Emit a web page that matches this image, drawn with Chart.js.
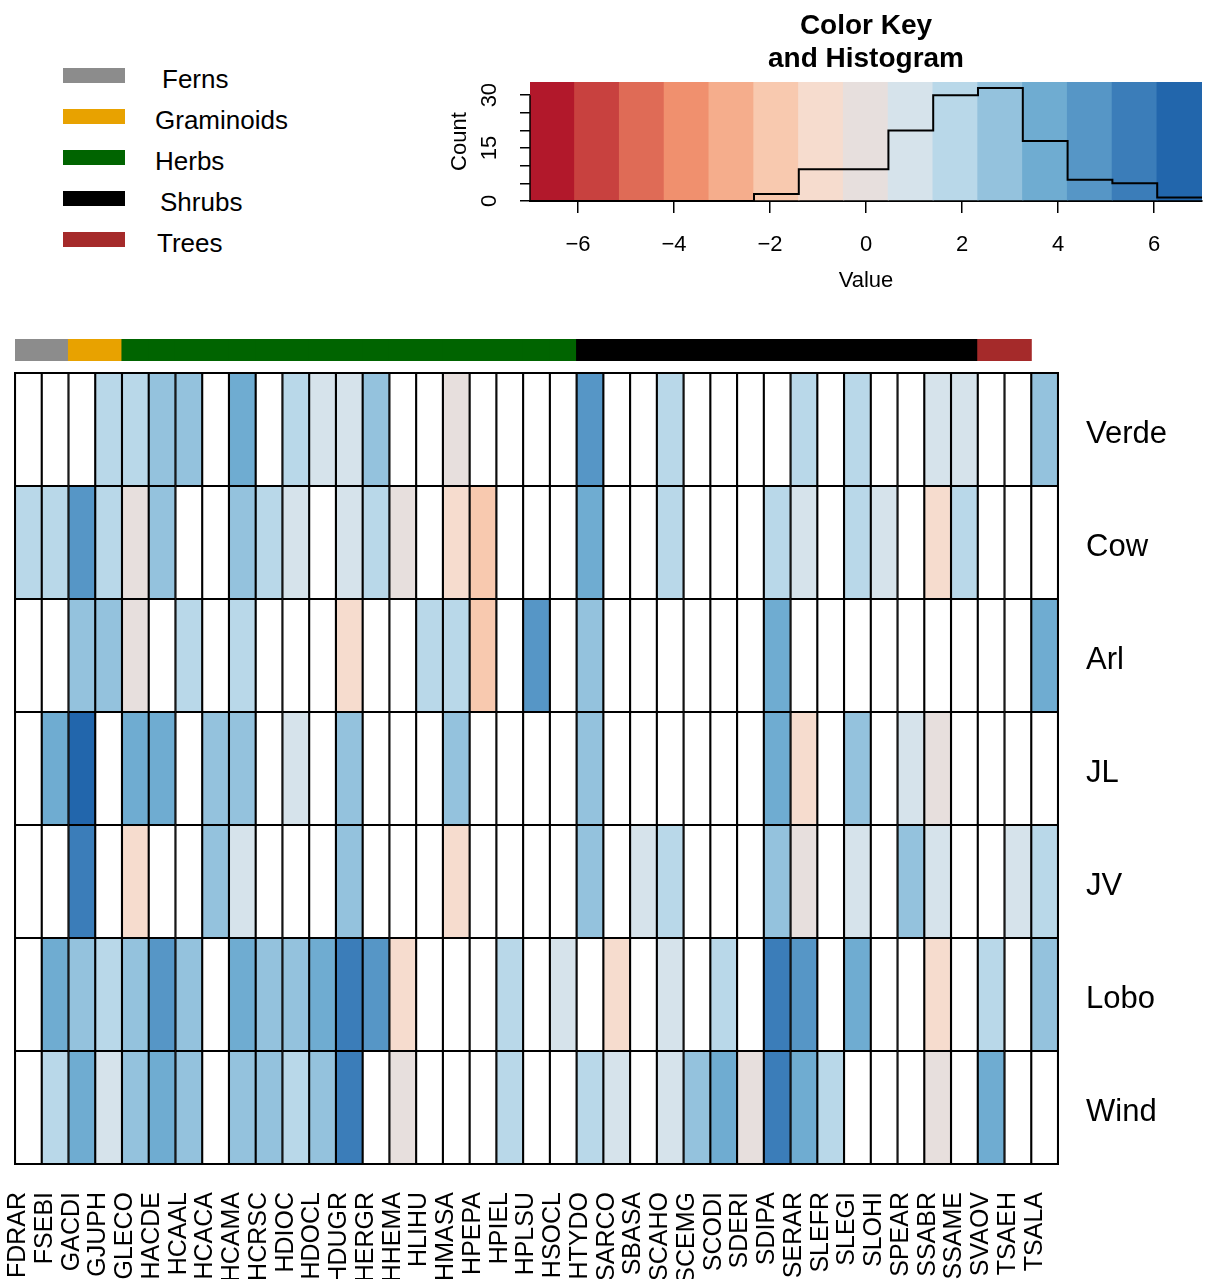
<!DOCTYPE html>
<html>
<head>
<meta charset="utf-8">
<title>Heatmap</title>
<script src="https://cdn.jsdelivr.net/npm/chart.js@4.4.0/dist/chart.umd.min.js"></script>
<style>
  body { margin: 0; background: #fff; width: 1205px; height: 1279px; overflow: hidden; position: relative;
         font-family: "Liberation Sans", Arial, Helvetica, sans-serif; }
  canvas { position: absolute; }
  #key { left: 420px; top: 0px; }
  #strip { left: 0px; top: 335px; }
  #heat { left: 0px; top: 365px; }
  .sw { position: absolute; left: 63px; width: 62px; height: 15px; }
  .lab { position: absolute; font-size: 26px; height: 30px; line-height: 30px; color: #000; }
</style>
</head>
<body>
<div id="legend"></div>
<canvas id="key" width="785" height="300"></canvas>
<canvas id="strip" width="1205" height="30"></canvas>
<canvas id="heat" width="1205" height="914"></canvas>
<script>
// species (columns) and sites (rows, top to bottom)
var species = ['FDRAR','FSEBI','GACDI','GJUPH','GLECO','HACDE','HCAAL','HCACA','HCAMA','HCRSC',
  'HDIOC','HDOCL','HDUGR','HERGR','HHEMA','HLIHU','HMASA','HPEPA','HPIEL','HPLSU','HSOCL','HTYDO',
  'SARCO','SBASA','SCAHO','SCEMG','SCODI','SDERI','SDIPA','SERAR','SLEFR','SLEGI','SLOHI','SPEAR',
  'SSABR','SSAME','SVAOV','TSAEH','TSALA'];
var rowNames = ['Verde','Cow','Arl','JL','JV','Lobo','Wind'];

// cell values (null = blank cell)
var n = null;
var verde = [n,n,n,1.9,1.9,2.8,2.8,n,3.7,n,1.9,0.9,0.9,2.8,n,n,0.1,n,n,n,n,4.7,n,n,1.9,n,n,n,n,1.9,n,1.9,n,n,0.9,0.9,n,n,2.8];
var cow   = [1.9,1.9,4.7,1.9,0.1,2.8,n,n,2.8,1.9,0.9,n,0.9,1.9,0.1,n,-0.9,-1.8,n,n,n,3.7,n,n,1.9,n,n,n,1.9,0.9,n,1.9,0.9,n,-0.9,1.9,n,n,n];
var arl   = [n,n,2.8,2.8,0.1,n,1.9,n,1.9,n,n,n,-0.9,n,n,1.9,1.9,-1.8,n,4.7,n,2.8,n,n,n,n,n,n,3.7,n,n,n,n,n,n,n,n,n,3.7];
var jl    = [n,3.7,6.4,n,3.7,3.7,n,2.8,2.8,n,0.9,n,2.8,n,n,n,2.8,n,n,n,n,2.8,n,n,n,n,n,n,3.7,-0.9,n,2.8,n,0.9,0.1,n,n,n,n];
var jv    = [n,n,5.6,n,-0.9,n,n,2.8,0.9,n,n,n,2.8,n,n,n,-0.9,n,n,n,n,2.8,n,0.9,1.9,n,n,n,2.8,0.1,n,0.9,n,2.8,0.9,n,n,0.9,1.9];
var lobo  = [n,3.7,2.8,1.9,2.8,4.7,2.8,n,3.7,2.8,2.8,3.7,5.6,4.7,-0.9,n,n,n,1.9,n,0.9,n,-0.9,n,0.9,n,1.9,n,5.6,4.7,n,3.7,n,n,-0.9,n,1.9,n,2.8];
var wind  = [n,1.9,3.7,0.9,2.8,3.7,2.8,n,2.8,2.8,1.9,2.8,5.6,n,0.1,n,n,n,1.9,n,n,1.9,0.9,n,0.9,2.8,3.7,0.1,5.6,3.7,1.9,n,n,n,0.1,n,3.7,n,n];
var rows = [verde, cow, arl, jl, jv, lobo, wind];

// colour key
var breaks = [-7,-6.067,-5.133,-4.2,-3.267,-2.333,-1.4,-0.467,0.467,1.4,2.333,3.267,4.2,5.133,6.067,7];
var keyColors = ['#b2182b','#c8413f','#df6b56','#f0906e','#f5ad8c','#f8c9af','#f6dcce','#e7dfdd',
  '#d6e3eb','#b9d8e9','#94c2dd','#6facd1','#5696c6','#3b7db9','#2266ac'];
var histCounts = [0,0,0,0,0,2,9,9,20,30,32,17,6,5,1];
var xTickVals = [-6,-4,-2,0,2,4,6];
var xTickLabels = ['\u22126','\u22124','\u22122','0','2','4','6'];
var yTickVals = [0,15,30];
var yTickLabels = ['0','15','30'];

// column side colours (as drawn, 38 entries)
var groupNames = ['Ferns','Graminoids','Herbs','Shrubs','Trees'];
var groupColors = ['#8c8c8c','#e8a200','#006400','#000000','#a52a2a'];
var stripGroups = ['Ferns','Ferns','Graminoids','Graminoids',
  'Herbs','Herbs','Herbs','Herbs','Herbs','Herbs','Herbs','Herbs','Herbs','Herbs','Herbs','Herbs','Herbs','Herbs','Herbs','Herbs','Herbs',
  'Shrubs','Shrubs','Shrubs','Shrubs','Shrubs','Shrubs','Shrubs','Shrubs','Shrubs','Shrubs','Shrubs','Shrubs','Shrubs','Shrubs','Shrubs',
  'Trees','Trees'];

Chart.defaults.font.family = '"Liberation Sans", Arial, Helvetica, sans-serif';
Chart.defaults.color = '#000';

function cellColor(v) {
  if (v === null) return '#ffffff';
  for (var k = 0; k < keyColors.length; k++) {
    if (v >= breaks[k] && v < breaks[k + 1]) return keyColors[k];
  }
  return keyColors[keyColors.length - 1];
}

// legend
var legendTops = [68, 109, 150, 191, 232];
var legendTextLeft = [162, 155, 155, 160, 157];
var leg = document.getElementById('legend');
groupNames.forEach(function (g, i) {
  var s = document.createElement('div');
  s.className = 'sw';
  s.style.top = legendTops[i] + 'px';
  s.style.background = groupColors[i];
  leg.appendChild(s);
  var t = document.createElement('div');
  t.className = 'lab';
  t.style.top = (legendTops[i] - 4) + 'px';
  t.style.left = legendTextLeft[i] + 'px';
  t.textContent = g;
  leg.appendChild(t);
});

// ---- colour key + histogram ----
var bandPoints = [];
for (var k = 0; k < keyColors.length; k++) {
  bandPoints.push({ x: (breaks[k] + breaks[k + 1]) / 2, y: [0, 33.7] });
}
var histPoints = histCounts.map(function (c, i) { return { x: breaks[i], y: c }; });
histPoints.push({ x: breaks[breaks.length - 1], y: histCounts[histCounts.length - 1] });

var keyAxis = {
  id: 'keyAxis',
  afterDraw: function (chart) {
    var ctx = chart.ctx, y = chart.scales.y, a = chart.chartArea;
    ctx.save();
    ctx.strokeStyle = '#000';
    ctx.lineWidth = 1.5;
    ctx.beginPath();
    ctx.moveTo(a.left, y.getPixelForValue(yTickVals[0]));
    ctx.lineTo(a.left, y.getPixelForValue(yTickVals[yTickVals.length - 1]));
    ctx.stroke();
    ctx.fillStyle = '#000';
    ctx.font = '22px "Liberation Sans", Arial, sans-serif';
    ctx.textAlign = 'center';
    ctx.textBaseline = 'middle';
    yTickVals.forEach(function (v, i) {
      ctx.save();
      ctx.translate(a.left - 40, y.getPixelForValue(v));
      ctx.rotate(-Math.PI / 2);
      ctx.fillText(yTickLabels[i], 0, 0);
      ctx.restore();
    });
    ctx.restore();
  }
};

new Chart(document.getElementById('key'), {
  type: 'bar',
  data: {
    datasets: [
      { type: 'line', data: histPoints, stepped: true, borderColor: '#000', borderWidth: 2,
        pointRadius: 0, fill: false, order: 0 },
      { type: 'bar', data: bandPoints, backgroundColor: keyColors, borderWidth: 0,
        barPercentage: 1.03, categoryPercentage: 1, order: 1 }
    ]
  },
  options: {
    responsive: false, animation: false, devicePixelRatio: 1,
    layout: { padding: { right: 3 } },
    plugins: {
      legend: { display: false }, tooltip: { enabled: false },
      title: { display: true, text: ['Color Key', 'and Histogram'], fullSize: false, color: '#000',
        font: { size: 28, weight: 'bold', lineHeight: 1.18 }, padding: { top: 10, bottom: 6 } }
    },
    scales: {
      x: {
        type: 'linear', min: -7, max: 7, offset: false,
        afterBuildTicks: function (s) { s.ticks = xTickVals.map(function (v) { return { value: v }; }); },
        afterFit: function (s) { s.height = 99; },
        ticks: { font: { size: 22 }, padding: 19, callback: function (v, i) { return xTickLabels[i]; } },
        grid: { offset: false, drawOnChartArea: false, tickLength: 12, color: '#000', lineWidth: 1.5 },
        border: { display: true, color: '#000', width: 2 },
        title: { display: true, text: 'Value', font: { size: 22 }, padding: { top: 0, bottom: 6 } }
      },
      y: {
        min: 0, max: 33.7,
        afterFit: function (s) { s.width = 110; },
        ticks: { stepSize: 5, includeBounds: false, display: false },
        grid: { drawOnChartArea: false, tickLength: 10, color: '#000', lineWidth: 1.5 },
        border: { display: false },
        title: { display: true, text: 'Count', font: { size: 22 }, padding: { top: 27, bottom: 0 } }
      }
    }
  },
  plugins: [keyAxis]
});

// ---- column side colour strip ----
new Chart(document.getElementById('strip'), {
  type: 'bar',
  data: {
    labels: species,
    datasets: [{
      data: species.map(function (s, i) { return i < stripGroups.length ? 1 : null; }),
      backgroundColor: stripGroups.map(function (g) { return groupColors[groupNames.indexOf(g)]; }),
      borderWidth: 0, barPercentage: 1.04, categoryPercentage: 1
    }]
  },
  options: {
    responsive: false, animation: false, devicePixelRatio: 1,
    layout: { padding: { left: 15, right: 147, top: 4, bottom: 4 } },
    plugins: { legend: { display: false }, tooltip: { enabled: false } },
    scales: { x: { display: false }, y: { display: false, min: 0, max: 1 } }
  }
});

// ---- heatmap ----
var frame = {
  id: 'frame',
  afterDatasetsDraw: function (chart) {
    var a = chart.chartArea, ctx = chart.ctx;
    ctx.save();
    ctx.strokeStyle = '#000';
    ctx.lineWidth = 2;
    ctx.strokeRect(a.left, a.top, a.right - a.left, a.bottom - a.top);
    ctx.restore();
  }
};

var heatSets = [];
for (var r = rows.length - 1; r >= 0; r--) {
  heatSets.push({
    label: rowNames[r],
    data: species.map(function () { return 1; }),
    backgroundColor: rows[r].map(cellColor),
    borderColor: '#000', borderWidth: 1.4, borderSkipped: false,
    barPercentage: 1, categoryPercentage: 1, stack: 'cells'
  });
}

new Chart(document.getElementById('heat'), {
  type: 'bar',
  data: { labels: species, datasets: heatSets },
  options: {
    responsive: false, animation: false, devicePixelRatio: 1,
    layout: { padding: { left: 15, top: 8 } },
    plugins: { legend: { display: false }, tooltip: { enabled: false } },
    scales: {
      x: {
        stacked: true,
        afterFit: function (s) { s.height = 115; s.paddingLeft = 0; s.paddingRight = 0; },
        grid: { display: false }, border: { display: false },
        ticks: { autoSkip: false, minRotation: 90, maxRotation: 90, font: { size: 25 }, padding: 20, labelOffset: -10 }
      },
      y: {
        stacked: true, position: 'right', min: 0, max: rowNames.length,
        // labels sit a little below the row middle, as in the original
        afterBuildTicks: function (s) {
          s.ticks = rowNames.map(function (nm, i) { return { value: rowNames.length - i - 0.545 }; });
        },
        afterFit: function (s) { s.width = 147; s.paddingTop = 0; s.paddingBottom = 0; },
        ticks: { font: { size: 31 }, padding: 20,
          callback: function (v) { return rowNames[rowNames.length - 1 - Math.floor(v)]; } },
        grid: { display: false }, border: { display: false }
      }
    }
  },
  plugins: [frame]
});
</script>
</body>
</html>
